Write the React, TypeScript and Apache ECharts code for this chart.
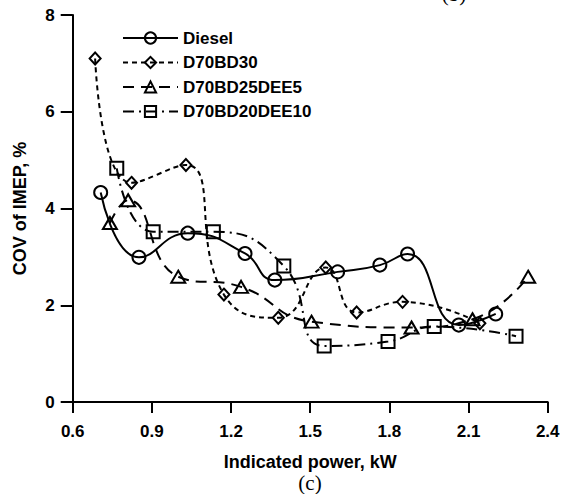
import React, { useEffect, useRef } from "react";
import * as echarts from "echarts";

const seriesNames = ["Diesel", "D70BD30", "D70BD25DEE5", "D70BD20DEE10"];

const dieselX = [0.706, 0.851, 1.036, 1.253, 1.366, 1.604, 1.764, 1.869, 2.063, 2.203];
const dieselY = [4.33, 2.99, 3.49, 3.07, 2.52, 2.69, 2.83, 3.06, 1.59, 1.82];

const bd30X = [0.685, 0.823, 1.029, 1.173, 1.379, 1.559, 1.676, 1.85, 2.143];
const bd30Y = [7.1, 4.53, 4.9, 2.22, 1.74, 2.78, 1.85, 2.07, 1.63];

const dee5X = [0.741, 0.81, 1.0, 1.238, 1.505, 1.884, 2.115, 2.326];
const dee5Y = [3.7, 4.17, 2.59, 2.38, 1.66, 1.54, 1.71, 2.59];

const dee10X = [0.767, 0.905, 1.133, 1.4, 1.553, 1.795, 1.97, 2.28];
const dee10Y = [4.83, 3.52, 3.52, 2.81, 1.16, 1.25, 1.56, 1.36];

const xTicks = { min: 0.6, max: 2.4, interval: 0.3 };
const yTicks = { min: 0, max: 8, interval: 2 };

const FONT = "'Liberation Sans', Arial, sans-serif";
const SERIF = "'Liberation Serif', 'Times New Roman', serif";

function pairs(xs: number[], ys: number[]) {
  return xs.map((x, i) => [x, ys[i]]);
}

export default function App() {
  const ref = useRef<HTMLDivElement>(null);
  useEffect(() => {
    if (!ref.current) return;
    const chart = echarts.init(ref.current, undefined, { renderer: "svg" });
    const mk = (
      name: string,
      data: number[][],
      symbol: string,
      size: number | number[],
      type: any
    ) => ({
      name,
      type: "line",
      data,
      smooth: 0.5,
      symbol,
      symbolSize: size,
      showSymbol: true,
      lineStyle: { color: "#000", width: 2, type },
      itemStyle: { color: "none", borderColor: "#000", borderWidth: 2 },
      z: 2,
    });
    chart.setOption({
      animation: false,
      backgroundColor: "#fff",
      grid: { left: 72.7, right: 19.3, top: 15, bottom: 92, containLabel: false },
      legend: {
        orient: "vertical",
        left: 117,
        top: 24.5,
        itemWidth: 55,
        itemHeight: 14,
        itemGap: 7.5,
        textStyle: { fontFamily: FONT, fontWeight: "bold", fontSize: 17, color: "#000" },
        data: seriesNames,
      },
      xAxis: {
        type: "value",
        min: xTicks.min,
        max: xTicks.max,
        interval: xTicks.interval,
        name: "Indicated power, kW",
        nameLocation: "middle",
        nameGap: 51,
        nameTextStyle: { fontFamily: FONT, fontWeight: "bold", fontSize: 18, color: "#000" },
        axisLine: { show: true, lineStyle: { color: "#000", width: 2 } },
        axisTick: { show: true, length: 11, lineStyle: { color: "#000", width: 2 } },
        axisLabel: {
          margin: 21,
          fontFamily: FONT,
          fontWeight: "bold",
          fontSize: 17,
          color: "#000",
          formatter: (v: number) => v.toFixed(1),
        },
        splitLine: { show: false },
      },
      yAxis: {
        type: "value",
        min: yTicks.min,
        max: yTicks.max,
        interval: yTicks.interval,
        name: "COV of IMEP, %",
        nameLocation: "middle",
        nameGap: 44,
        nameTextStyle: { fontFamily: FONT, fontWeight: "bold", fontSize: 18, color: "#000" },
        axisLine: { show: true, lineStyle: { color: "#000", width: 2 } },
        axisTick: { show: true, length: 12, lineStyle: { color: "#000", width: 2 } },
        axisLabel: {
          margin: 18,
          fontFamily: FONT,
          fontWeight: "bold",
          fontSize: 17,
          color: "#000",
        },
        splitLine: { show: false },
      },
      graphic: [
        {
          type: "text",
          x: 310,
          y: 483,
          style: {
            text: "(c)",
            fontFamily: SERIF,
            fontSize: 21,
            fill: "#000",
            textAlign: "center",
            textVerticalAlign: "middle",
          },
        },
        {
          type: "text",
          x: 454,
          y: 4,
          style: {
            text: "(b)",
            fontFamily: SERIF,
            fontSize: 21,
            fill: "#000",
            textAlign: "center",
            textVerticalAlign: "bottom",
          },
        },
      ],
      series: [
        mk(seriesNames[0], pairs(dieselX, dieselY), "circle", 13, "solid"),
        mk(seriesNames[1], pairs(bd30X, bd30Y), "diamond", [11, 12], [5, 4]),
        mk(seriesNames[2], pairs(dee5X, dee5Y), "triangle", [14, 12], [11, 7]),
        mk(seriesNames[3], pairs(dee10X, dee10Y), "rect", 13, [11, 5, 2, 5]),
      ],
    });
    return () => chart.dispose();
  }, []);
  return (
    <div
      ref={ref}
      style={{ position: "absolute", left: 0, top: 0, width: 567, height: 494 }}
    />
  );
}
